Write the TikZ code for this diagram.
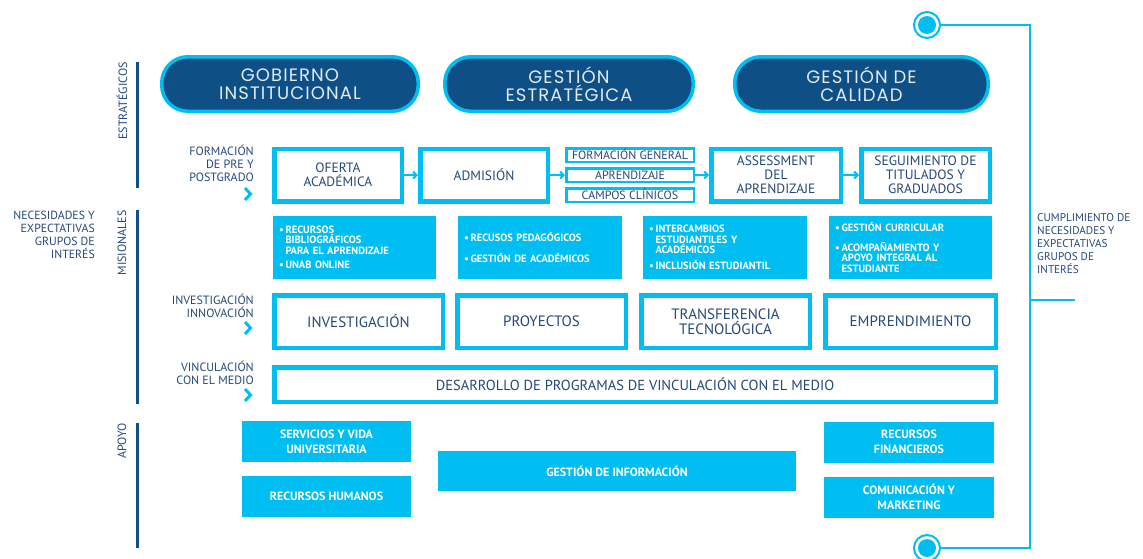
\documentclass[tikz,border=0pt]{standalone}
\usepackage{fontspec}
\setmainfont{PT Sans}
\newfontfamily\pillfont{Poppins}[LetterSpace=6]
\usepackage{tikz}
\usetikzlibrary{arrows.meta, positioning, calc}
\definecolor{unabCyan}{RGB}{0,190,242}
\definecolor{unabNavy}{RGB}{14,80,134}
\definecolor{unabText}{RGB}{36,72,122}
\definecolor{pillText}{RGB}{226,233,241}
\newcommand{\bitem}{\makebox[6.5pt][l]{•}}
\newcommand{\bpad}{\hspace*{6.5pt}}

\begin{document}
\begin{tikzpicture}[
    x=1pt, y=-1pt,
    pill/.style={rectangle, rounded corners=26pt, draw=unabCyan, line width=3.5pt, fill=unabNavy, text=pillText, align=center, font=\pillfont\fontsize{18}{18.5}\selectfont, minimum height=54.5pt, inner sep=0pt},
    etapa/.style={rectangle, draw=unabCyan, line width=4.5pt, fill=white, text=unabText, align=center, font=\fontsize{13.5}{13.8}\selectfont, minimum height=52.5pt, inner sep=0pt},
    subetapa/.style={rectangle, draw=unabCyan, line width=2.5pt, fill=white, text=unabText, font=\fontsize{12}{12}\selectfont, minimum width=127.5pt, minimum height=13.5pt, text height=8.4pt, text depth=0pt, inner sep=0pt},
    recurso/.style={rectangle, fill=unabCyan, text=white, align=left, font=\bfseries\fontsize{10.5}{10.5}\selectfont, minimum height=63pt, inner xsep=6pt},
    apoyo/.style={rectangle, fill=unabCyan, text=white, align=center, font=\bfseries\fontsize{12}{15}\selectfont, inner sep=0pt},
    eje/.style={text=unabText, align=right, anchor=north east, inner sep=0pt, font=\fontsize{12}{13}\selectfont},
    seccion/.style={text=unabText, rotate=90, anchor=east, inner sep=0pt, font=\fontsize{12}{12}\selectfont},
    barra/.style={draw=unabNavy, line width=3pt},
    flecha/.style={-{Straight Barb[length=3.5pt, width=7pt]}, line width=2pt, unabCyan},
    chevron/.style={unabCyan, line width=3pt},
    riel/.style={draw=unabCyan, line width=2.5pt},
    hito/.style={circle, draw=unabCyan, line width=2pt, fill=white, minimum size=26pt, inner sep=0pt, path picture={\fill[unabCyan] (path picture bounding box.center) circle (9pt);}}
]
    \useasboundingbox (0,0) rectangle (1143,558);

    % Procesos estrategicos
    \node[pill, minimum width=256.5pt] (gobierno) at (290,84) {GOBIERNO\\INSTITUCIONAL};
    \node[pill, minimum width=248.5pt] (gestion) at (569,84) {GESTIÓN\\ESTRATÉGICA};
    \node[pill, minimum width=253.5pt] (calidad) at (861.5,84) {GESTIÓN DE\\CALIDAD};

    % Formacion de pre y postgrado
    \node[etapa, minimum width=127.5pt] (oferta) at (338,175) {OFERTA\\ACADÉMICA};
    \node[etapa, minimum width=127.5pt] (admision) at (484,175) {ADMISIÓN};
    \node[subetapa] (formgen) at (630,155) {FORMACIÓN GENERAL};
    \node[subetapa] (aprend) at (630,175) {APRENDIZAJE};
    \node[subetapa] (campos) at (630,195) {CAMPOS CLÍNICOS};
    \node[etapa, minimum width=129.5pt] (assess) at (776,175) {ASSESSMENT\\DEL\\APRENDIZAJE};
    \node[etapa, minimum width=128.5pt] (seguim) at (925.5,175) {SEGUIMIENTO DE\\TITULADOS Y\\GRADUADOS};

    \node[recurso, text width=151pt] (biblio) at (354.5,247.5) {\bitem RECURSOS\\\bpad BIBLIOGRÁFICOS\\\bpad PARA EL APRENDIZAJE\\[4pt]\bitem UNAB ONLINE};
    \node[recurso, text width=152pt] (pedag) at (540,247.5) {\bitem RECUSOS PEDAGÓGICOS\\[10pt]\bitem GESTIÓN DE ACADÉMICOS};
    \node[recurso, text width=152pt] (intercambio) at (725,247.5) {\bitem INTERCAMBIOS\\\bpad ESTUDIANTILES Y\\\bpad ACADÉMICOS\\[5pt]\bitem INCLUSIÓN ESTUDIANTIL};
    \node[recurso, text width=151pt] (curricular) at (910.5,247.5) {\bitem GESTIÓN CURRICULAR\\[9pt]\bitem ACOMPAÑAMIENTO Y\\\bpad APOYO INTEGRAL AL\\\bpad ESTUDIANTE};

    % Investigacion y vinculacion
    \node[etapa, minimum width=168.5pt, font=\fontsize{15}{14.5}\selectfont] (investig) at (358.5,321.5) {INVESTIGACIÓN};
    \node[etapa, minimum width=168.5pt, font=\fontsize{15}{14.5}\selectfont] (proyectos) at (541.5,321.5) {PROYECTOS};
    \node[etapa, minimum width=168.5pt, font=\fontsize{15}{14.5}\selectfont] (transfer) at (725.5,321.5) {TRANSFERENCIA\\TECNOLÓGICA};
    \node[etapa, minimum width=170.5pt, font=\fontsize{15}{14.5}\selectfont] (emprend) at (910.5,321.5) {EMPRENDIMIENTO};
    \node[etapa, minimum width=721.5pt, minimum height=34.5pt, font=\fontsize{14.5}{14}\selectfont] (desarrollo) at (635,384.5) {DESARROLLO DE PROGRAMAS DE VINCULACIÓN CON EL MEDIO};

    % Procesos de apoyo
    \node[apoyo, minimum width=169pt, minimum height=41pt] (servicios) at (326.5,441.5) {SERVICIOS Y VIDA\\UNIVERSITARIA};
    \node[apoyo, minimum width=169pt, minimum height=41pt] (rrhh) at (326.5,496.5) {RECURSOS HUMANOS};
    \node[apoyo, minimum width=358pt, minimum height=40pt] (info) at (617,471) {GESTIÓN DE INFORMACIÓN};
    \node[apoyo, minimum width=170pt, minimum height=41pt] (finanzas) at (909,442) {RECURSOS\\FINANCIEROS};
    \node[apoyo, minimum width=170pt, minimum height=41pt] (comunic) at (909,497) {COMUNICACIÓN Y\\MARKETING};

    % Etiquetas
    \node[eje] (lblform) at (254,145) {FORMACIÓN\\DE PRE Y\\POSTGRADO};
    \node[eje] (lblinv) at (254,293.5) {INVESTIGACIÓN\\INNOVACIÓN};
    \node[eje] (lblvinc) at (254,360.5) {VINCULACIÓN\\CON EL MEDIO};
    \draw[chevron] (245,188) -- (250.5,194) -- (245,200);
    \draw[chevron] (245,322) -- (250.5,328) -- (245,334);
    \draw[chevron] (245,389) -- (250.5,395) -- (245,401);

    \node[seccion] (secestrat) at (122,62) {ESTRATÉGICOS};
    \node[seccion] (secmision) at (122,210) {MISIONALES};
    \node[seccion] (secapoyo) at (122,423) {APOYO};
    \draw[barra] (137,62) -- (137,188);
    \draw[barra] (137,210) -- (137,404);
    \draw[barra] (137,423) -- (137,548);

    \node[eje, font=\fontsize{11.8}{13}\selectfont] (necesidades) at (95,210.5) {NECESIDADES Y\\EXPECTATIVAS\\GRUPOS DE\\INTERÉS};
    \node[eje, font=\fontsize{11.2}{13}\selectfont, align=left, anchor=north west] (cumplimiento) at (1037,213.5) {CUMPLIMIENTO DE\\NECESIDADES Y\\EXPECTATIVAS\\GRUPOS DE\\INTERÉS};

    % Links
    \draw[flecha] (oferta) -- (admision);
    \draw[flecha] (admision) -- (aprend);
    \draw[flecha] (aprend) -- (assess);
    \draw[flecha] (assess) -- (seguim);

    \node[hito] (inicio) at (927,25) {};
    \node[hito] (fin) at (927,548) {};
    \coordinate (rielsup) at (1030,25);
    \coordinate (rielinf) at (1030,548);
    \coordinate (ramal) at (1075,300);
    \draw[riel] (inicio) -- (rielsup) -- (rielinf) -- (fin);
    \draw[riel] (rielsup |- ramal) -- (ramal);
\end{tikzpicture}
\end{document}
